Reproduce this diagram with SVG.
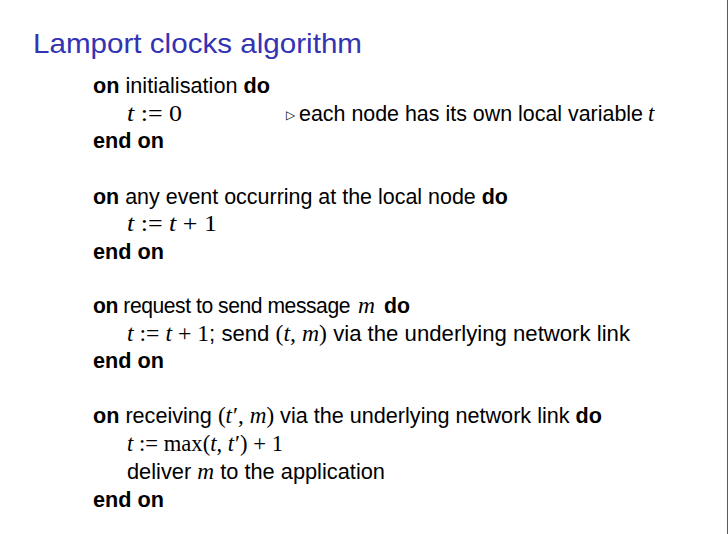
<svg xmlns="http://www.w3.org/2000/svg" width="728" height="534" viewBox="0 0 728 534">
<style>
.t{font-family:"Liberation Sans","DejaVu Sans",sans-serif;font-size:21.5px;fill:#000}
.b{font-weight:bold}
.m{font-family:"Liberation Serif","DejaVu Serif",serif;font-size:23px}
.i{font-style:italic}
.title{font-family:"Liberation Sans","DejaVu Sans",sans-serif;font-size:28px;fill:#3333b3}
</style>
<rect x="0" y="0" width="728" height="534" fill="#ffffff"/>
<line x1="727.5" y1="0" x2="727.5" y2="534" stroke="#5a5a5a" stroke-width="1"/>
<g id="title">
<text class="title" x="33" y="53" textLength="329" lengthAdjust="spacingAndGlyphs">Lamport clocks algorithm</text>
</g>
<g id="init">
<text class="t" x="93" y="93" textLength="177" lengthAdjust="spacingAndGlyphs"><tspan class="b">on</tspan> initialisation <tspan class="b">do</tspan></text>
<text class="t" x="127" y="121" textLength="55" lengthAdjust="spacingAndGlyphs" xml:space="preserve"><tspan class="m i">t</tspan><tspan class="m"> := 0</tspan></text>
<text x="286" y="119" style="font-family:'DejaVu Sans',sans-serif;font-size:12px;fill:#000">▷</text>
<text class="t" x="299" y="121" textLength="344" lengthAdjust="spacingAndGlyphs">each node has its own local variable</text>
<text class="t m i" x="648" y="121">t</text>
<text class="t b" x="93" y="148" textLength="71" lengthAdjust="spacingAndGlyphs">end on</text>
</g>
<g id="event">
<text class="t" x="93" y="204" textLength="415" lengthAdjust="spacingAndGlyphs"><tspan class="b">on</tspan> any event occurring at the local node <tspan class="b">do</tspan></text>
<text class="t" x="127" y="231" textLength="90" lengthAdjust="spacingAndGlyphs" xml:space="preserve"><tspan class="m i">t</tspan><tspan class="m"> := </tspan><tspan class="m i">t</tspan><tspan class="m"> + 1</tspan></text>
<text class="t b" x="93" y="259" textLength="71" lengthAdjust="spacingAndGlyphs">end on</text>
</g>
<g id="send">
<text class="t" x="93" y="313" style="letter-spacing:-0.45px" textLength="257" lengthAdjust="spacingAndGlyphs"><tspan class="b">on</tspan> request to send message</text>
<text class="t m i" x="358" y="313" textLength="17" lengthAdjust="spacingAndGlyphs">m</text>
<text class="t b" x="384" y="313" textLength="26" lengthAdjust="spacingAndGlyphs">do</text>
<text class="t" x="127" y="341" textLength="503" lengthAdjust="spacingAndGlyphs" xml:space="preserve"><tspan class="m i">t</tspan><tspan class="m"> := </tspan><tspan class="m i">t</tspan><tspan class="m"> + 1</tspan>; send <tspan class="m">(</tspan><tspan class="m i">t</tspan><tspan class="m">, </tspan><tspan class="m i">m</tspan><tspan class="m">)</tspan> via the underlying network link</text>
<text class="t b" x="93" y="368" textLength="71" lengthAdjust="spacingAndGlyphs">end on</text>
</g>
<g id="receive">
<text class="t" x="93" y="423" textLength="509" lengthAdjust="spacingAndGlyphs" xml:space="preserve"><tspan class="b">on</tspan> receiving <tspan class="m">(</tspan><tspan class="m i">t</tspan><tspan class="m" dx="1">′, </tspan><tspan class="m i">m</tspan><tspan class="m">)</tspan> via the underlying network link <tspan class="b">do</tspan></text>
<text class="t" x="127" y="451" textLength="156" lengthAdjust="spacingAndGlyphs" xml:space="preserve"><tspan class="m i">t</tspan><tspan class="m"> := max(</tspan><tspan class="m i">t</tspan><tspan class="m">, </tspan><tspan class="m i">t</tspan><tspan class="m" dx="1">′) + 1</tspan></text>
<text class="t" x="127" y="479" textLength="258" lengthAdjust="spacingAndGlyphs">deliver <tspan class="m i">m</tspan> to the application</text>
<text class="t b" x="93" y="507" textLength="71" lengthAdjust="spacingAndGlyphs">end on</text>
</g>
</svg>
